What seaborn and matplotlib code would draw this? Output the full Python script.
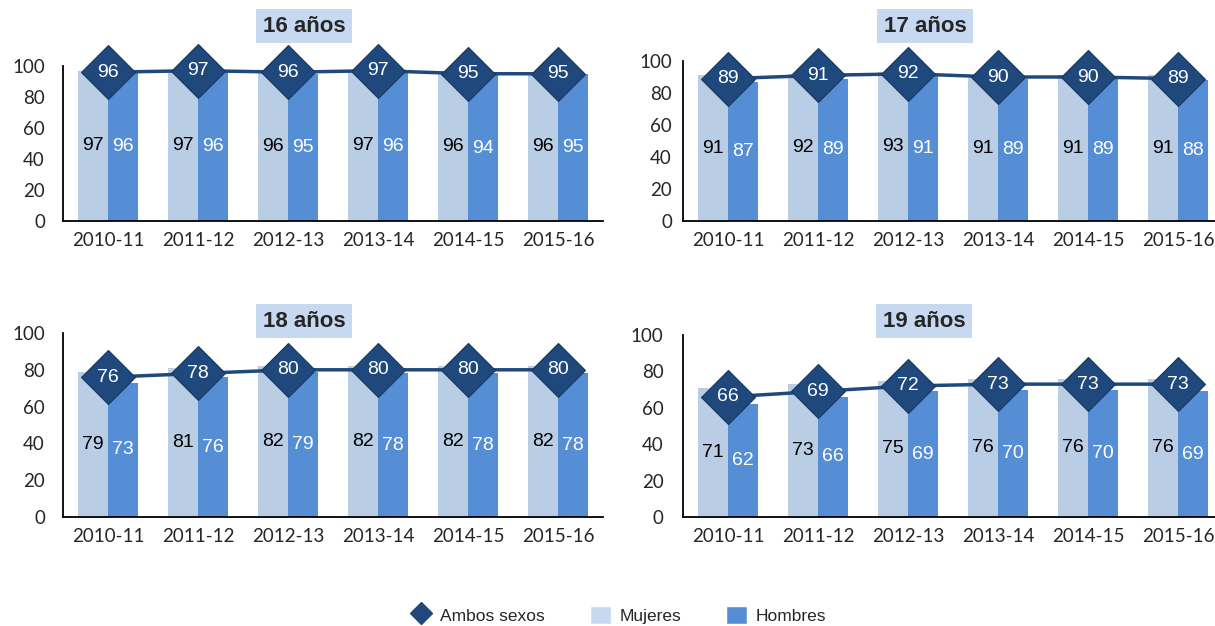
import pandas as pd
import seaborn as sns
import matplotlib.pyplot as plt
from matplotlib.lines import Line2D
from matplotlib.patches import Patch

periodos = ['2010-11', '2011-12', '2012-13', '2013-14', '2014-15', '2015-16']

ambos_16 = [96, 97, 96, 97, 95, 95]
mujeres_16 = [97, 97, 96, 97, 96, 96]
hombres_16 = [96, 96, 95, 96, 94, 95]

ambos_17 = [89, 91, 92, 90, 90, 89]
mujeres_17 = [91, 92, 93, 91, 91, 91]
hombres_17 = [87, 89, 91, 89, 89, 88]

ambos_18 = [76, 78, 80, 80, 80, 80]
mujeres_18 = [79, 81, 82, 82, 82, 82]
hombres_18 = [73, 76, 79, 78, 78, 78]

ambos_19 = [66, 69, 72, 73, 73, 73]
mujeres_19 = [71, 73, 75, 76, 76, 76]
hombres_19 = [62, 66, 69, 70, 70, 69]

titulos = ['16 años', '17 años', '18 años', '19 años']

C_MUJ = '#B9CDE5'
C_HOM = '#558ED5'
C_AMB = '#1F497D'
C_BOX = '#C6D9F1'

sns.set_style('white')
plt.rcParams['font.family'] = ['Liberation Sans', 'DejaVu Sans']

W, H = 1215, 626
fig = plt.figure(figsize=(W / 100, H / 100), dpi=100)


def px_rect(x0, x1, top, bottom):
    return [x0 / W, 1 - bottom / H, (x1 - x0) / W, (bottom - top) / H]


# (axes rect in px, title centre in px, y label pad)
paneles = [
    (ambos_16, mujeres_16, hombres_16, px_rect(63, 603, 66, 221), (304, 26), 13),
    (ambos_17, mujeres_17, hombres_17, px_rect(683, 1223, 61, 221), (925, 26), 8),
    (ambos_18, mujeres_18, hombres_18, px_rect(63, 603, 333, 517), (304, 321), 13),
    (ambos_19, mujeres_19, hombres_19, px_rect(683, 1223, 335, 517), (924, 321), 14),
]


def dibujar_panel(ambos, mujeres, hombres, rect, tpos, ypad, titulo):
    ax = fig.add_axes(rect)
    df = pd.DataFrame({
        'periodo': periodos * 2,
        'sexo': ['Mujeres'] * len(periodos) + ['Hombres'] * len(periodos),
        'valor': mujeres + hombres,
    })
    sns.barplot(data=df, x='periodo', y='valor', hue='sexo',
                palette={'Mujeres': C_MUJ, 'Hombres': C_HOM},
                saturation=1, width=0.667, legend=False, linewidth=0,
                edgecolor='none', ax=ax)
    conts = list(ax.containers)
    ax.bar_label(conts[0], label_type='center', color='black', fontsize=14)
    ax.bar_label(conts[1], label_type='center', color='white', fontsize=14)

    sns.pointplot(x=periodos, y=ambos, color=C_AMB, markers='D',
                  markersize=28, linewidth=2.5, markeredgecolor='#17375E',
                  markeredgewidth=0.8, ax=ax)
    for ln in ax.lines:
        ln.set_clip_on(False)
    for i, v in enumerate(ambos):
        ax.text(i, v, str(v), ha='center', va='center', color='white',
                fontsize=14, zorder=10)

    ax.set_ylim(0, 100)
    ax.set_yticks(range(0, 101, 20))
    ax.set_xlim(-0.5, len(periodos) - 0.5)
    ax.set_xlabel('')
    ax.set_ylabel('')
    ax.tick_params(axis='both', length=0, labelsize=13.5)
    ax.tick_params(axis='y', pad=ypad)
    ax.tick_params(axis='x', pad=8)
    for lab in ax.get_xticklabels() + ax.get_yticklabels():
        lab.set_family(['Lato', 'DejaVu Sans'])
    sns.despine(ax=ax)
    for s in ['left', 'bottom']:
        ax.spines[s].set_color('black')
        ax.spines[s].set_linewidth(1.3)
    ax.patch.set_alpha(0)

    fig.text(tpos[0] / W, 1 - tpos[1] / H, titulo, ha='center', va='center',
             fontsize=16, fontweight='bold',
             bbox=dict(boxstyle='square,pad=0.3', facecolor=C_BOX, edgecolor='none'))


for (a, m, h, rect, tpos, ypad), t in zip(paneles, titulos):
    dibujar_panel(a, m, h, rect, tpos, ypad, t)

handles = [
    Line2D([], [], marker='D', color=C_AMB, linestyle='none', markersize=11),
    Patch(facecolor='#C6D9F1'),
    Patch(facecolor=C_HOM),
]
fig.legend(handles, ['Ambos sexos', 'Mujeres', 'Hombres'], loc='center',
           bbox_to_anchor=(0.509, 1 - 615 / H), ncol=3, frameon=False,
           fontsize=12.5, handlelength=1.2, handleheight=1.3,
           columnspacing=2.6, handletextpad=0.5)

plt.savefig('out.png', dpi=100)
